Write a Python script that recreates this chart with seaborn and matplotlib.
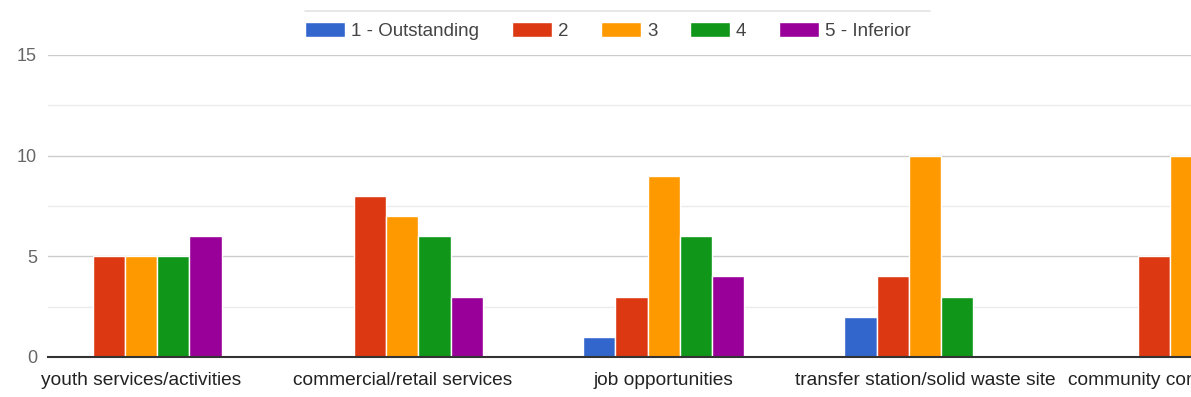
import matplotlib
matplotlib.use("Agg")
import matplotlib.pyplot as plt
import seaborn as sns
import pandas as pd
from matplotlib.lines import Line2D

categories = ["youth services/activities", "commercial/retail services",
              "job opportunities", "transfer station/solid waste site",
              "community communications"]
ratings = ["1 - Outstanding", "2", "3", "4", "5 - Inferior"]
outstanding = [0, 0, 1, 2, 0]
r2 = [5, 8, 3, 4, 5]
r3 = [5, 7, 9, 10, 10]
r4 = [5, 6, 6, 3, 4]
inferior = [6, 3, 4, 0, 2]
colors = ["#3366cc", "#dc3912", "#ff9900", "#109618", "#990099"]

series = [outstanding, r2, r3, r4, inferior]
rows = []
for rating, vals in zip(ratings, series):
    for cat, v in zip(categories, vals):
        rows.append({"category": cat, "rating": rating, "count": v})
df = pd.DataFrame(rows)

sns.set_theme(style="white")
plt.rcParams["font.family"] = ["Liberation Sans", "DejaVu Sans"]

fig = plt.figure(figsize=(11.91, 3.97), dpi=100)
ax = fig.add_axes([0.0403, 0.1008, 0.9597, 0.7607])

sns.barplot(data=df, x="category", y="count", hue="rating", hue_order=ratings,
            order=categories, palette=colors, width=0.617, saturation=1,
            edgecolor="white", linewidth=1, ax=ax, zorder=3)

ax.set_ylim(0, 15)
ax.set_xlim(-0.356, 4.018)
ax.set_yticks([0, 5, 10, 15])
ax.set_yticks([2.5, 7.5, 12.5], minor=True)
ax.grid(axis="y", which="major", color="#cccccc", linewidth=1, zorder=0)
ax.grid(axis="y", which="minor", color="#ebebeb", linewidth=1, zorder=0)
ax.set_axisbelow(True)
for s in ["top", "right", "left"]:
    ax.spines[s].set_visible(False)
ax.spines["bottom"].set_color("#333333")
ax.spines["bottom"].set_linewidth(1.5)
ax.spines["bottom"].set_zorder(4)
ax.set_xlabel("")
ax.set_ylabel("")
ax.tick_params(axis="x", length=0, pad=11, labelsize=13.8, labelcolor="#222222")
ax.tick_params(axis="y", which="both", length=0, pad=8, labelsize=13, labelcolor="#666666")

handles, labels = ax.get_legend_handles_labels()
ax.get_legend().remove()
fig.legend(handles, labels, loc="center", bbox_to_anchor=(608 / 1191, 1 - 31 / 397),
           ncol=5, frameon=False, fontsize=13.5, labelcolor="#444444",
           handlelength=2.13, handleheight=0.8, handletextpad=0.32,
           columnspacing=1.75)

fig.add_artist(Line2D([305 / 1191, 930 / 1191], [1 - 11 / 397, 1 - 11 / 397],
                      transform=fig.transFigure, color="#e3e3e3", linewidth=1.2))

fig.savefig("out.png", dpi=100)
